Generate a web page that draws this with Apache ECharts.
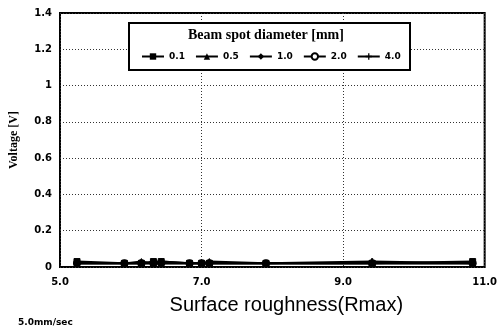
<!DOCTYPE html>
<html>
<head>
<meta charset="utf-8">
<script src="https://cdn.jsdelivr.net/npm/echarts@6/dist/echarts.min.js"></script>
<style>
  html, body { margin: 0; padding: 0; background: #fff; }
  #chart { width: 500px; height: 333px; }
</style>
</head>
<body>
<div id="chart"></div>
<script>
// surface roughness (Rmax) where voltage was measured
const roughness = [5.24, 5.91, 6.15, 6.32, 6.43, 6.83, 7.0, 7.11, 7.91, 9.41, 10.83];

// voltage [V] per beam spot diameter
const spotNames = ['0.1', '0.5', '1.0', '2.0', '4.0'];
const v01 = [0.03, 0.02, 0.02, 0.03, 0.03, 0.02, 0.02, 0.02, 0.02, 0.02, 0.03];
const v05 = [0.02, 0.02, 0.03, 0.02, 0.03, 0.02, 0.02, 0.03, 0.02, 0.02, 0.02];
const v10 = [0.02, 0.02, 0.02, 0.02, 0.02, 0.02, 0.02, 0.02, 0.02, 0.02, 0.02];
const v20 = [0.02, 0.02, 0.02, 0.02, 0.02, 0.02, 0.02, 0.02, 0.02, 0.02, 0.02];
const v40 = [0.02, 0.02, 0.02, 0.02, 0.02, 0.02, 0.02, 0.02, 0.02, 0.03, 0.02];

const xTicks = ['5.0', '7.0', '9.0', '11.0'];

const plus = 'path://M0,4 L10,4 L10,6 L0,6 Z M4,0 L6,0 L6,10 L4,10 Z';
const symbols = ['rect', 'triangle', 'diamond', 'emptyCircle', plus];
const allValues = [v01, v05, v10, v20, v40];

const chart = echarts.init(document.getElementById('chart'));

const series = spotNames.map((name, i) => ({
  name,
  type: 'line',
  data: roughness.map((x, j) => [x, allValues[i][j]]),
  symbol: symbols[i],
  symbolSize: 6,
  lineStyle: { color: '#000', width: 2 },
  itemStyle: { color: '#000', borderColor: '#000' },
  z: symbols[i] === 'emptyCircle' ? 2 : 3
}));

chart.setOption({
  animation: false,
  backgroundColor: '#fff',
  grid: {
    left: 58, right: 15, top: 13, bottom: 66,
    show: true, borderColor: '#000', borderWidth: 2
  },
  xAxis: {
    type: 'value',
    min: 5, max: 11, interval: 2,
    axisLine: { show: false },
    axisTick: { show: false },
    splitLine: { lineStyle: { color: '#333', type: [1, 2], width: 1 } },
    axisLabel: {
      color: '#000', fontSize: 10, fontWeight: 'bold', fontFamily: 'DejaVu Sans',
      margin: 10,
      formatter: v => xTicks[Math.round((v - 5) / 2)]
    },
    name: 'Surface roughness(Rmax)',
    nameLocation: 'middle',
    nameGap: 28,
    nameTextStyle: { fontSize: 20, color: '#000', fontFamily: 'Liberation Sans', padding: [0, 0, 0, 28] }
  },
  yAxis: {
    type: 'value',
    min: 0, max: 1.4, interval: 0.2,
    axisLine: { show: false },
    axisTick: { show: false },
    splitLine: { lineStyle: { color: '#333', type: [1, 2], width: 1 } },
    axisLabel: {
      color: '#000', fontSize: 10, fontWeight: 'bold', fontFamily: 'DejaVu Sans',
      margin: 8,
      formatter: v => (v === 0 || v === 1) ? String(v) : v.toFixed(1)
    },
    name: 'Voltage [V]',
    nameLocation: 'middle',
    nameRotate: 90,
    nameGap: 40,
    nameTextStyle: { fontSize: 12, fontWeight: 'bold', color: '#000', fontFamily: 'Liberation Serif' }
  },
  legend: {
    data: spotNames,
    left: 136, top: 47,
    z: 20,
    itemGap: 10,
    itemWidth: 22, itemHeight: 8,
    textStyle: { fontSize: 9, fontWeight: 'bold', color: '#000', fontFamily: 'DejaVu Sans' }
  },
  graphic: [
    {
      type: 'rect', z: 10, silent: true,
      shape: { x: 129, y: 23, width: 281, height: 47 },
      style: { fill: '#fff', stroke: '#000', lineWidth: 2 }
    },
    {
      type: 'text', z: 11, left: 188, top: 28, silent: true,
      style: {
        text: 'Beam spot diameter [mm]',
        fill: '#000', fontSize: 14, fontWeight: 'bold', fontFamily: 'Liberation Serif'
      }
    },
    {
      type: 'text', z: 11, left: 18, top: 318, silent: true,
      style: { text: '5.0mm/sec', fill: '#000', fontSize: 9, fontWeight: 'bold', fontFamily: 'DejaVu Sans' }
    }
  ],
  series
});
</script>
</body>
</html>
